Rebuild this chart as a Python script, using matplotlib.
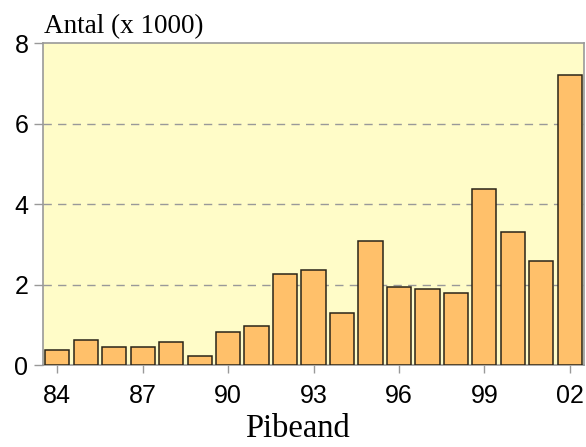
import matplotlib
matplotlib.use("Agg")
import matplotlib.pyplot as plt
import numpy as np

# data
years = ["84", "85", "86", "87", "88", "89", "90", "91", "92", "93",
         "94", "95", "96", "97", "98", "99", "00", "01", "02"]
antal = [0.38, 0.62, 0.46, 0.45, 0.58, 0.23, 0.83, 0.98, 2.25, 2.35,
         1.30, 3.07, 1.95, 1.90, 1.79, 4.38, 3.30, 2.59, 7.21]
yticks = [0, 2, 4, 6, 8]

plt.rcParams["font.family"] = ["Liberation Sans", "DejaVu Sans"]

fig = plt.figure(figsize=(5.86, 4.47), dpi=100)
ax = fig.add_axes([0.0734, 0.1834, 0.9232, 0.7204])
ax.set_facecolor("#fffcc8")

x = np.arange(len(years))
ax.bar(x, antal, width=0.85, color="#ffc06a", edgecolor="#2a2418", linewidth=1.1, zorder=3)

ax.set_xlim(-0.5, len(years) - 0.5)
ax.set_ylim(0, 8)
ax.set_yticks(yticks)
ax.set_xticks(x[::3])
ax.set_xticklabels(years[::3])

# stiplede gitterlinjer
for v in yticks[1:-1]:
    ax.axhline(v, color="#999999", linestyle=(0, (6, 4.5)), linewidth=1, zorder=1)

for s in ax.spines.values():
    s.set_color("#999999")
    s.set_linewidth(1.2)

ax.tick_params(axis="both", colors="#999999", labelcolor="black", width=1, labelsize=18)
ax.tick_params(axis="x", length=6, pad=7.5)
ax.tick_params(axis="y", length=6.5, pad=4)

fig.text(0.075, 0.927, "Antal (x 1000)", family="Liberation Serif", fontsize=19.5, ha="left", va="baseline")
fig.text(0.508, 0.006, "Pibeand", family="Liberation Serif", fontsize=23.5, ha="center", va="bottom")

fig.savefig("out.png", dpi=100)
